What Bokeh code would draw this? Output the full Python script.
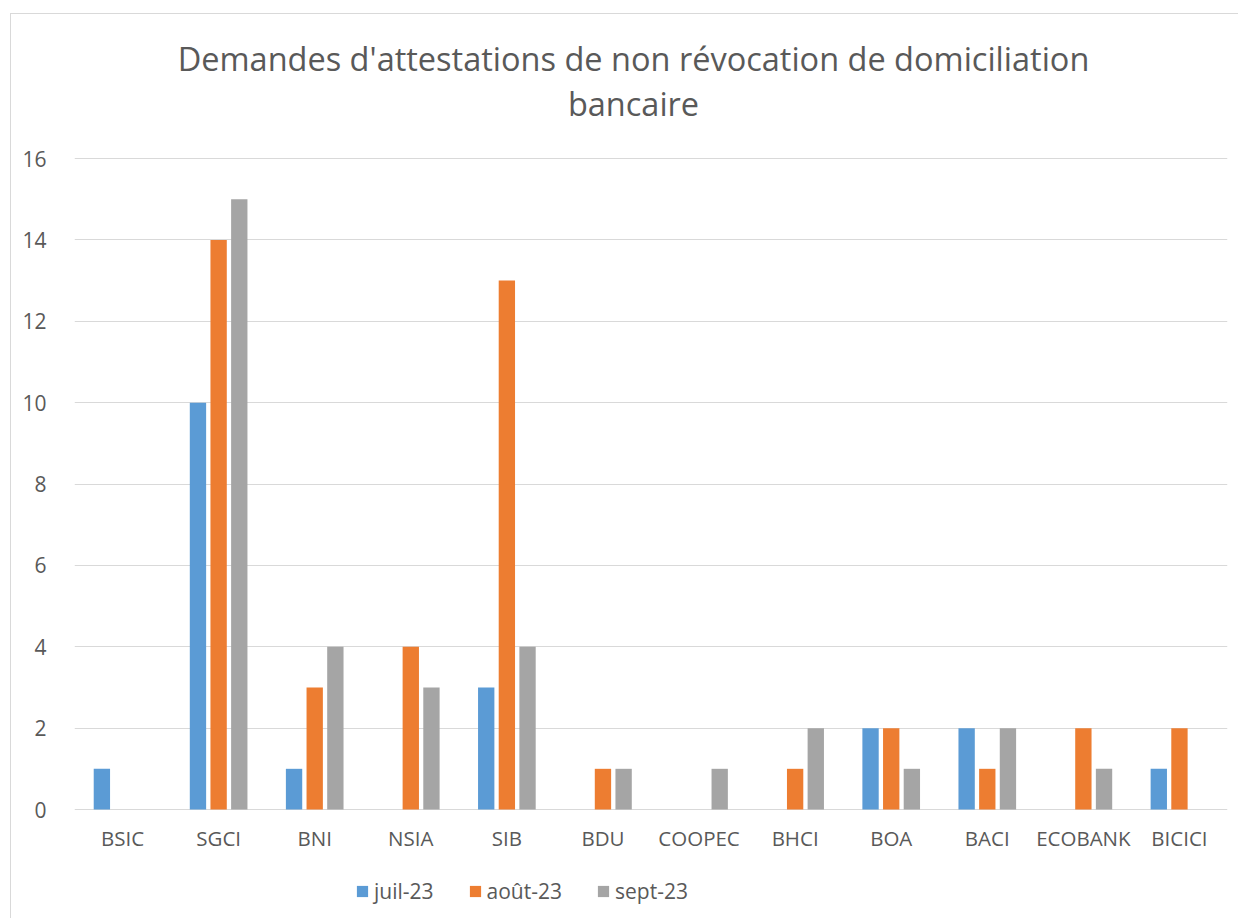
from bokeh.plotting import figure
from bokeh.models import FactorRange, Range1d, FixedTicker, Legend, LegendItem, Label, ColumnDataSource
from bokeh.core.properties import value
from bokeh.transform import dodge
from bokeh.embed import file_html
from bokeh.resources import INLINE

banks = ["BSIC", "SGCI", "BNI", "NSIA", "SIB", "BDU", "COOPEC", "BHCI", "BOA", "BACI", "ECOBANK", "BICICI"]
juil_23 = [1, 10, 1, 0, 3, 0, 0, 0, 2, 2, 0, 1]
aout_23 = [0, 14, 3, 4, 13, 1, 0, 1, 2, 1, 2, 2]
sept_23 = [0, 15, 4, 3, 4, 1, 1, 2, 1, 2, 1, 0]
series_names = ["juil-23", "août-23", "sept-23"]
colors = ["#5B9BD5", "#ED7D31", "#A5A5A5"]
y_ticks = [0, 2, 4, 6, 8, 10, 12, 14, 16]
title_lines = ["Demandes d'attestations de non révocation de domiciliation", "bancaire"]

FONT = "Open Sans"
TXT = "#595959"
GRID = "#D9D9D9"

# pixel geometry (page coords): y=0 at 809, y=16 at 158; frame spans canvas vertically
W, H = 1228, 905
CANVAS_TOP = 14
PX_PER_UNIT = (809 - 158) / 16.0
y_top = (809 - CANVAS_TOP) / PX_PER_UNIT
y_bot = -((CANVAS_TOP + H) - 809) / PX_PER_UNIT

src = ColumnDataSource(dict(bank=banks, s0=juil_23, s1=aout_23, s2=sept_23))

p = figure(x_range=FactorRange(*banks, range_padding=0), y_range=Range1d(y_bot, y_top),
           width=W, height=H, output_backend="svg", toolbar_location=None, title=None,
           min_border_left=63, min_border_right=12, min_border_top=0, min_border_bottom=0)
p.styles = {"border-left": "1px solid #D9D9D9", "border-top": "1px solid #D9D9D9",
            "margin-left": "10px", "margin-top": "13px"}
p.outline_line_color = None
p.background_fill_color = "white"
p.border_fill_color = "white"

renderers = []
offsets = [-0.215, 0, 0.215]
for i, (name, col, off) in enumerate(zip(series_names, colors, offsets)):
    r = p.vbar(x=dodge("bank", off, range=p.x_range), top="s%d" % i, bottom=0, width=0.17,
               source=src, fill_color=col, line_color=None)
    renderers.append(r)

p.xgrid.grid_line_color = None
p.ygrid.grid_line_color = GRID
p.ygrid.grid_line_width = 1
p.yaxis.ticker = FixedTicker(ticks=y_ticks)
p.ygrid.ticker = FixedTicker(ticks=y_ticks)
p.yaxis.axis_line_color = None
p.yaxis.major_tick_line_color = None
p.yaxis.minor_tick_line_color = None
p.yaxis.major_label_text_font = FONT
p.yaxis.major_label_text_font_size = "21px"
p.yaxis.major_label_text_color = TXT
p.yaxis.major_label_standoff = 22
p.xaxis.visible = False

# category labels under the baseline
p.text(x=banks, y=[-(837 - 809) / PX_PER_UNIT] * len(banks), text=banks,
       text_align="center", text_baseline="alphabetic",
       text_font=value(FONT), text_font_size="20.5px", text_color=TXT)

# title (two centered lines)
tx = (633 - 74) / ((1227 - 74) / 12.0)
p.add_layout(Label(x=tx, y=(809 - 58) / PX_PER_UNIT, text=title_lines[0], text_align="center",
                   text_baseline="alphabetic", text_font=FONT, text_font_size="32.5px", text_color=TXT))
p.add_layout(Label(x=tx, y=(809 - 103) / PX_PER_UNIT, text=title_lines[1], text_align="center",
                   text_baseline="alphabetic", text_font=FONT, text_font_size="32.5px", text_color=TXT))

legend = Legend(items=[LegendItem(label=n, renderers=[r]) for n, r in zip(series_names, renderers)],
                location=(281, 14), orientation="horizontal", padding=0, margin=0, spacing=34,
                glyph_width=14, glyph_height=14, label_standoff=5,
                label_text_font=FONT, label_text_font_size="21px", label_text_color=TXT,
                border_line_color=None, background_fill_alpha=0)
p.add_layout(legend, "center")

open("out.html", "w").write(file_html(p, INLINE))
